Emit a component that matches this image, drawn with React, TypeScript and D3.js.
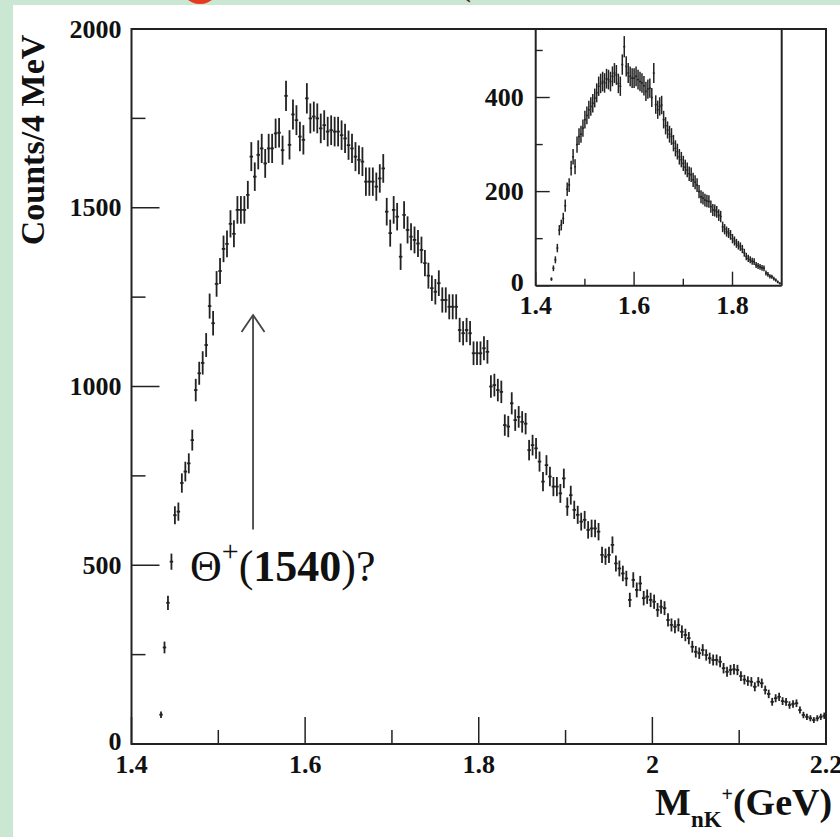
import React from "react";
import * as d3 from "d3";

const W = 840;
const H = 837;

// main histogram: counts per 4 MeV bin, first bin centred at 1.434 GeV
const mainStart = 1.434;
const mainBinWidth = 0.004;
const mainCounts = [
  82, 270, 395, 510, 640, 650, 730, 762, 785, 850,
  990, 1037, 1066, 1116, 1225, 1177, 1287, 1323, 1385, 1399,
  1455, 1427, 1494, 1494, 1494, 1536, 1643, 1587, 1648, 1666,
  1624, 1666, 1666, 1708, 1710, 1661, 1813, 1676, 1761, 1745,
  1699, 1690, 1806, 1750, 1755, 1750, 1722, 1731, 1713, 1717,
  1713, 1713, 1703, 1694, 1675, 1666, 1643, 1634, 1629, 1573,
  1573, 1573, 1559, 1582, 1610, 1489, 1429, 1494, 1475, 1363,
  1480, 1438, 1419, 1410, 1400, 1382, 1345, 1310, 1275, 1265,
  1289, 1242, 1242, 1223, 1223, 1223, 1158, 1149, 1158, 1149,
  1093, 1093, 1093, 1107, 1097, 1000, 1004, 990, 985, 892,
  888, 953, 906, 915, 901, 896, 822, 836, 827, 790,
  734, 780, 748, 720, 720, 701, 743, 664, 696, 655,
  641, 622, 627, 599, 603, 603, 594, 529, 524, 529,
  557, 505, 491, 477, 463, 403, 459, 431, 449, 408,
  412, 403, 398, 375, 384, 380, 347, 333, 328, 333,
  314, 305, 296, 272, 258, 254, 263, 249, 240, 235,
  235, 230, 212, 202, 207, 209, 207, 190, 180, 176,
  174, 160, 174, 170, 151, 140, 118, 128, 132, 120,
  118, 109, 112, 114, 95, 81, 76, 72, 67, 72,
  76, 79,
];

// inset histogram
const insetStart = 1.432;
const insetBinWidth = 0.004;
const insetCounts = [
  14, 37, 55, 80, 118, 129, 143, 170, 205, 214,
  250, 274, 253, 300, 317, 322, 335, 353, 362, 374,
  381, 388, 399, 410, 424, 430, 434, 431, 440, 438,
  434, 445, 452, 448, 430, 424, 470, 508, 466, 452,
  445, 441, 441, 445, 438, 434, 431, 425, 413, 418,
  420, 400, 452, 385, 374, 381, 384, 353, 340, 331,
  322, 317, 303, 292, 285, 274, 268, 260, 252, 246,
  238, 236, 225, 220, 214, 200, 189, 186, 182, 180,
  179, 168, 161, 160, 157, 150, 147, 125, 120, 115,
  112, 108, 100, 95, 90, 86, 83, 78, 70, 62,
  58, 55, 52, 51, 44, 42, 40, 38, 37, 27,
  24, 20, 19, 15, 12, 8, 5,
];

const mainXTicks = [1.4, 1.6, 1.8, 2, 2.2];
const mainXMinor = [1.5, 1.7, 1.9, 2.1];
const mainYTicks = [0, 500, 1000, 1500, 2000];
const mainYMinor = [250, 750, 1250, 1750];
const insetXTicks = [1.4, 1.6, 1.8];
const insetXMinor = [1.5, 1.7];
const insetYTicks = [0, 200, 400];
const insetYMinor = [100, 300, 500];

const serif = "'Liberation Serif', 'Times New Roman', serif";
const ink = "#222";

const x = d3.scaleLinear().domain([1.4, 2.2]).range([131.5, 826]);
const y = d3.scaleLinear().domain([0, 2000]).range([744, 29]);
const xi = d3.scaleLinear().domain([1.4, 1.9]).range([535.7, 781.7]);
const yi = d3.scaleLinear().domain([0, 545]).range([285.7, 29.3]);

type Sx = d3.ScaleLinear<number, number>;

const ErrorBars = ({ counts, start, bw, sx, sy, sw }: { counts: number[]; start: number; bw: number; sx: Sx; sy: Sx; sw: number }) => (
  <g stroke={ink} strokeWidth={sw}>
    {counts.map((v, i) => {
      const m = start + i * bw;
      const e = Math.sqrt(v);
      return (
        <g key={i}>
          <line x1={sx(m)} x2={sx(m)} y1={sy(Math.max(0, v - e))} y2={sy(v + e)} />
          <line x1={sx(m - bw / 2)} x2={sx(m + bw / 2)} y1={sy(v)} y2={sy(v)} />
        </g>
      );
    })}
  </g>
);

const App = () => {
  const x0 = x.range()[0];
  const y0 = y.range()[0];
  const xi0 = xi.range()[0];
  const yi0 = yi.range()[0];
  return (
    <svg width={W} height={H} style={{ position: "absolute", left: 0, top: 0, display: "block" }}>
      <rect x={0} y={0} width={W} height={H} fill="#c9e7d3" />
      <rect x={13} y={5} width={W - 13} height={H - 5} fill="#fff" />
      <circle cx={200} cy={-16} r={20} fill="#e8391d" />
      <text x={458} y={-6} fontFamily={serif} fontSize={40} fill="#5a1208">(</text>

      {/* main frame */}
      <rect x={x0} y={y.range()[1]} width={x.range()[1] - x0} height={y0 - y.range()[1]} fill="none" stroke={ink} strokeWidth={2} />
      <g stroke={ink} strokeWidth={1.5}>
        {mainYTicks.map((t) => <line key={"y" + t} x1={x0} x2={x0 + 28} y1={y(t)} y2={y(t)} />)}
        {mainYMinor.map((t) => <line key={"ym" + t} x1={x0} x2={x0 + 14} y1={y(t)} y2={y(t)} />)}
        {mainXTicks.map((t) => <line key={"x" + t} x1={x(t)} x2={x(t)} y1={y0} y2={y0 - 27} />)}
        {mainXMinor.map((t) => <line key={"xm" + t} x1={x(t)} x2={x(t)} y1={y0} y2={y0 - 14} />)}
      </g>
      <g fontFamily={serif} fontWeight="bold" fontSize={26} fill="#111">
        {mainYTicks.map((t) => (
          <text key={t} x={x0 - 10} y={y(t) - (t === 0 ? 3 : 0)} textAnchor="end" dominantBaseline="central">{t}</text>
        ))}
        {mainXTicks.map((t) => (
          <text key={t} x={x(t)} y={773} textAnchor="middle">{String(t)}</text>
        ))}
      </g>

      <ErrorBars counts={mainCounts} start={mainStart} bw={mainBinWidth} sx={x} sy={y} sw={1.8} />

      {/* inset */}
      <g stroke={ink} strokeWidth={2} fill="none">
        <line x1={xi0} x2={xi0} y1={yi.range()[1]} y2={yi0} />
        <line x1={xi0} x2={xi.range()[1]} y1={yi0} y2={yi0} />
        <line x1={xi.range()[1]} x2={xi.range()[1]} y1={yi.range()[1]} y2={yi0} />
      </g>
      <g stroke={ink} strokeWidth={1.4}>
        {insetYTicks.map((t) => <line key={"iy" + t} x1={xi0} x2={xi0 + 14} y1={yi(t)} y2={yi(t)} />)}
        {insetYMinor.map((t) => <line key={"iym" + t} x1={xi0} x2={xi0 + 7} y1={yi(t)} y2={yi(t)} />)}
        {insetXTicks.map((t) => <line key={"ix" + t} x1={xi(t)} x2={xi(t)} y1={yi0} y2={yi0 - 14} />)}
        {insetXMinor.map((t) => <line key={"ixm" + t} x1={xi(t)} x2={xi(t)} y1={yi0} y2={yi0 - 7} />)}
      </g>
      <g fontFamily={serif} fontWeight="bold" fontSize={26} fill="#111">
        {insetYTicks.map((t) => (
          <text key={t} x={xi0 - 12} y={yi(t) - (t === 0 ? 3 : 0)} textAnchor="end" dominantBaseline="central">{t}</text>
        ))}
        {insetXTicks.map((t) => (
          <text key={t} x={xi(t)} y={314} textAnchor="middle">{String(t)}</text>
        ))}
      </g>
      <ErrorBars counts={insetCounts} start={insetStart} bw={insetBinWidth} sx={xi} sy={yi} sw={1.5} />

      {/* annotation arrow at 1540 MeV */}
      <g stroke="#444" strokeWidth={1.8} fill="none">
        <line x1={x(1.54)} x2={x(1.54)} y1={y(600)} y2={y(1200)} />
        <polyline points={`${x(1.54) - 11.5},${y(1200) + 17} ${x(1.54)},${y(1200)} ${x(1.54) + 11.5},${y(1200) + 17}`} />
      </g>
      <text x={x(1.4673)} y={y(455)} fontFamily={serif} fontSize={44} fill="#111">
        <tspan>Θ</tspan>
        <tspan dy={-20} fontSize={30}>+</tspan>
        <tspan dy={20}>(</tspan>
        <tspan fontWeight="bold">1540</tspan>
        <tspan>)?</tspan>
      </text>

      {/* axis titles */}
      <text transform="translate(44,140) rotate(-90)" textAnchor="middle" fontFamily={serif} fontWeight="bold" fontSize={34} fill="#111">
        Counts/4 MeV
      </text>
      <text x={655} y={815} fontFamily={serif} fontWeight="bold" fontSize={38} fill="#111">
        M<tspan dy={12} fontSize={23}>nK</tspan>
        <tspan dy={-26} fontSize={20}>+</tspan>
        <tspan dy={14} fontSize={38}>(GeV)</tspan>
      </text>
    </svg>
  );
};

export default App;
